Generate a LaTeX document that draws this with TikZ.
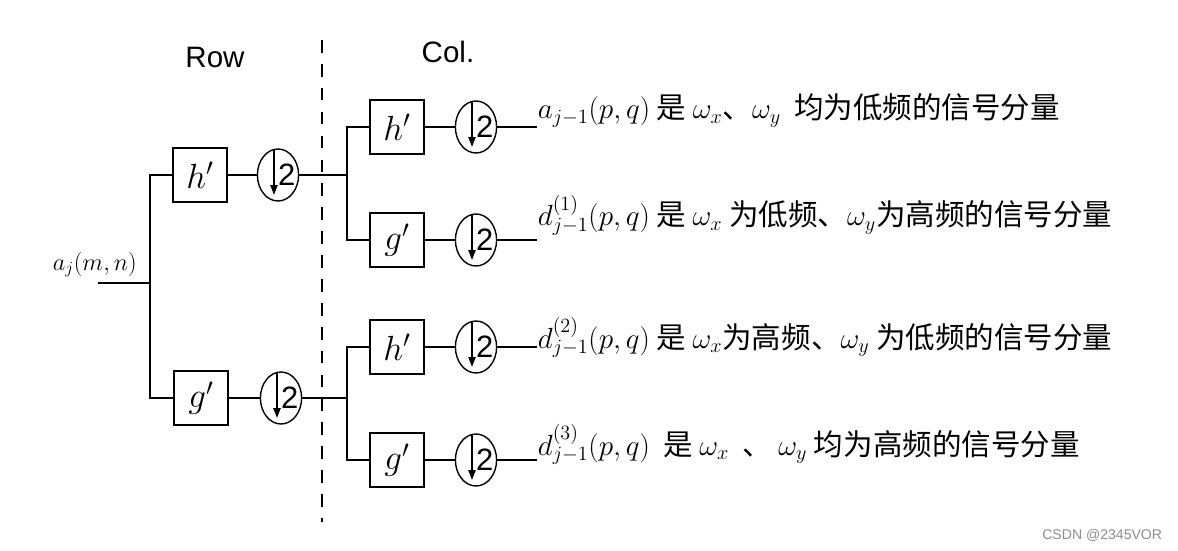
\documentclass[tikz,border=0pt]{standalone}
\usepackage{fontspec}
\setmainfont{Noto Sans CJK SC}
\newfontfamily\lat{Liberation Sans}
\usetikzlibrary{positioning, arrows.meta, shapes.geometric}

\begin{document}
\begin{tikzpicture}[x=0.025cm, y=-0.025cm, line width=1.3pt,
      filt/.style={draw, minimum width=1.35cm, minimum height=1.35cm, inner sep=0pt,
        font=\fontsize{23}{28}\selectfont},
      dn/.style={draw, ellipse, line width=1pt, minimum width=1.03cm, minimum height=1.3cm, inner sep=0pt,
        path picture={
          \draw[line width=1.3pt, -{Triangle[length=7pt, width=5pt]}]
            ([xshift=-0.1cm]path picture bounding box.north) -- ([xshift=-0.1cm, yshift=0.15cm]path picture bounding box.south);
          \node[font=\lat\fontsize{22}{24}\selectfont, inner sep=0pt] at ([xshift=0.22cm]path picture bounding box.center) {2};
        }},
      ttl/.style={font=\lat\fontsize{21}{24}\selectfont, inner sep=0pt},
      lbl/.style={anchor=base west, inner sep=0pt, font=\fontsize{21}{24}\selectfont}]
    \useasboundingbox (0,0) rectangle (1178,551);
    % headings and the row / column divider
    \node[ttl] (row) at (215,57) {Row};
    \node[ttl] (col) at (448,52) {Col.};
    \coordinate (dt) at (322,40);
    \coordinate (db) at (322,522);
    \draw[dashed, dash pattern=on 9pt off 8pt] (dt) -- (db);
    % input
    \node[anchor=base west, inner sep=0pt, font=\fontsize{18}{22}\selectfont] (ain) at (52,270) {$a_j(m,n)$};
    \coordinate (in) at (98,283);
    \coordinate (sp) at (150,283);
    % row stage
    \node[filt] (rh) at (200,175) {$h'$};
    \node[filt] (rg) at (201,398) {$g'$};
    \node[dn] (rd1) at (278,175) {};
    \node[dn] (rd2) at (281,398) {};
    \draw (in) -- (sp);
    \draw (rh.west) -| (sp) |- (rg.west);
    \draw (rh) -- (rd1);
    \draw (rg) -- (rd2);
    % column stage
    \foreach \n/\y/\f in {1/127/h, 2/240/g, 3/347/h, 4/460/g} {
      \node[filt] (c\n) at (397,\y) {$\f'$};
      \node[dn] (cd\n) at (476,\y) {};
      \coordinate (o\n) at (537,\y);
      \draw (c\n) -- (cd\n) -- (o\n);
    }
    \coordinate (cs1) at (347,175);
    \coordinate (cs2) at (347,398);
    \draw (rd1) -- (cs1);
    \draw (rd2) -- (cs2);
    \draw (c1.west) -| (cs1) |- (c2.west);
    \draw (c3.west) -| (cs2) |- (c4.west);
    % sub-band labels
    \node[lbl] (l1) at (537,119) {$a_{j-1}(p,q)$ 是 $\omega_x$、$\omega_y$\ \ 均为低频的信号分量};
    \node[lbl] (l2) at (537,226) {$d^{(1)}_{j-1}(p,q)$\ 是 $\omega_x$ 为低频、$\omega_y$为高频的信号分量};
    \node[lbl] (l3) at (537,348) {$d^{(2)}_{j-1}(p,q)$ 是 $\omega_x$为高频、$\omega_y$ 为低频的信号分量};
    \node[lbl] (l4) at (537,455) {$d^{(3)}_{j-1}(p,q)$\ \ 是 $\omega_x$ \ 、\ $\omega_y$ 均为高频的信号分量};
    \node[anchor=base east, inner sep=0pt, text=black!45, font=\lat\fontsize{10}{12}\selectfont] (wm) at (1163,539) {CSDN @2345VOR};
  \end{tikzpicture}
\end{document}
